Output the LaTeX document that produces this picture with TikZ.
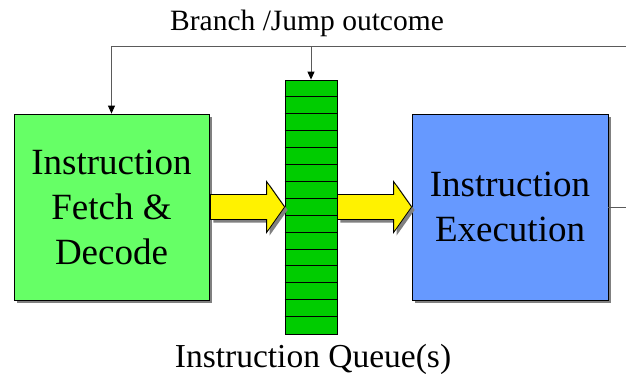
\documentclass[tikz,border=0pt]{standalone}
\usepackage{fontspec}
\setmainfont{Liberation Serif}
\usetikzlibrary{calc,shadows,arrows.meta}
\definecolor{fetchg}{HTML}{66FF66}
\definecolor{execb}{HTML}{6699FF}
\definecolor{queueg}{HTML}{00CC00}
\definecolor{fbgray}{HTML}{5A5A5A}
\definecolor{shadowgray}{HTML}{808080}
\begin{document}
\begin{tikzpicture}[x=1pt,y=-1pt,
  shad/.style={drop shadow={shadow xshift=3pt, shadow yshift=-3pt, fill=shadowgray, opacity=1}},
  blk/.style={draw=black, line width=0.8pt, shad, align=center, inner sep=0pt,
    font=\fontsize{37}{45}\selectfont},
  yarrow/.style={draw=black, fill=yellow, line width=0.8pt, line join=miter, shad},
  fbline/.style={draw=fbgray, line width=1pt},
  fbtip/.style={-{Triangle[length=8pt,width=7pt,color=black]}}
]
\useasboundingbox (0,0) rectangle (626,374);
% blocks
\node[blk, fill=fetchg, minimum width=195pt, minimum height=186pt] (fetch) at (111.5,207) {Instruction\\Fetch \&\\Decode};
\node[blk, fill=execb, minimum width=196pt, minimum height=186pt] (ex) at (510,207) {Instruction\\Execution};
\node[draw=black, line width=0.8pt, fill=queueg, minimum width=52pt, minimum height=254pt, inner sep=0pt] (q) at (311,207) {};
\foreach \i in {1,...,14}
  \draw[line width=0.8pt] ($(q.north west)+(0,\i*16.933)$) -- ($(q.north east)+(0,\i*16.933)$);
% yellow arrows
\draw[yarrow] ($(fetch.east)+(1,-12.5)$) -- ($(q.west)+(-18,-12.5)$) -- ($(q.west)+(-18,-25.5)$) -- (q.west)
  -- ($(q.west)+(-18,25.5)$) -- ($(q.west)+(-18,12.5)$) -- ($(fetch.east)+(1,12.5)$) -- cycle;
\draw[yarrow] ($(q.east)+(0,-12.5)$) -- ($(ex.west)+(-18,-12.5)$) -- ($(ex.west)+(-18,-25.5)$) -- (ex.west)
  -- ($(ex.west)+(-18,25.5)$) -- ($(ex.west)+(-18,12.5)$) -- ($(q.east)+(0,12.5)$) -- cycle;
% feedback
\coordinate (fbR) at (627,207);
\coordinate (fbT) at (627,47);
\draw[fbline, fbtip] (ex.east) -- (fbR) -- (fbT) -| (fetch.north);
\draw[fbline, fbtip] (q.north |- fbT) -- (q.north);
% labels
\node[font=\fontsize{29.5}{30}\selectfont, anchor=base, inner sep=0pt] (lbl) at (307,31) {Branch /Jump outcome};
\node[font=\fontsize{33.5}{34}\selectfont, anchor=base, inner sep=0pt] (qlbl) at (313,367) {Instruction Queue(s)};
\end{tikzpicture}
\end{document}
